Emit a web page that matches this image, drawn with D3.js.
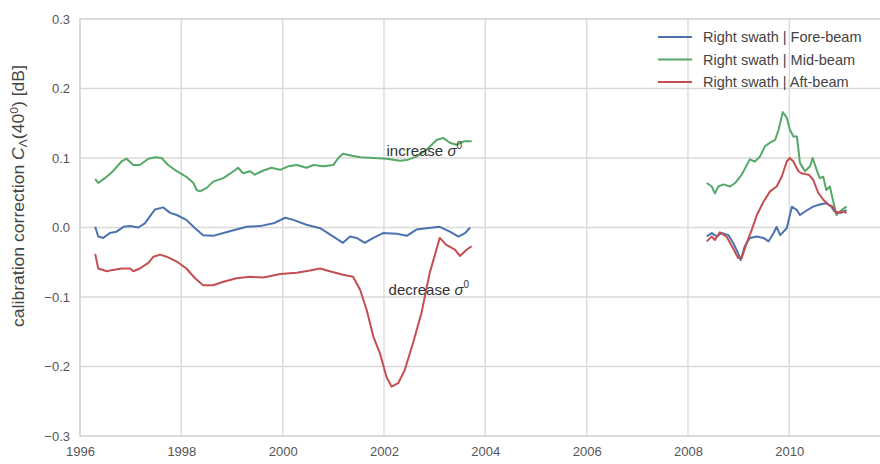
<!DOCTYPE html>
<html>
  <head>
    <meta charset="utf-8">
    <title></title>
  </head>
  <body style="margin:0;background:#fff">
  <style media="screen">
    svg { display:block; font-family:"Liberation Sans", Arial, sans-serif; }
    .grid line { stroke:#d9d9d9; stroke-width:1.3; }
    .tick text { fill:#555; font-size:13px; }
    .series { fill:none; stroke-width:2; stroke-linejoin:round; }
  </style>

<svg id="chart1" width="880" height="464"></svg>
    <script src="https://d3js.org/d3.v7.min.js"></script>
    <script type="text/javascript">
    // data (decimal year, dB)
    var foreYears1 = [1996.30,1996.36,1996.46,1996.59,1996.72,1996.86,1996.99,1997.15,1997.28,1997.38,1997.48,1997.64,1997.78,1997.91,1998.10,1998.27,1998.43,1998.63,1998.83,1999.03,1999.29,1999.55,1999.82,2000.05,2000.21,2000.47,2000.74,2001.00,2001.19,2001.33,2001.46,2001.62,2001.79,2001.98,2002.25,2002.45,2002.64,2002.84,2003.10,2003.30,2003.47,2003.60,2003.70];
    var foreVals1  = [0.001,-0.013,-0.015,-0.008,-0.006,0.001,0.002,0.000,0.006,0.016,0.026,0.029,0.021,0.018,0.011,-0.001,-0.011,-0.012,-0.008,-0.004,0.001,0.002,0.006,0.014,0.011,0.004,-0.001,-0.013,-0.022,-0.013,-0.015,-0.022,-0.015,-0.008,-0.009,-0.012,-0.003,-0.001,0.001,-0.006,-0.013,-0.008,0.000];

    var midYears1 = [1996.30,1996.36,1996.49,1996.65,1996.82,1996.92,1997.05,1997.18,1997.35,1997.48,1997.61,1997.74,1997.91,1998.10,1998.24,1998.30,1998.37,1998.50,1998.63,1998.83,1999.03,1999.12,1999.22,1999.36,1999.45,1999.62,1999.78,1999.95,2000.11,2000.28,2000.47,2000.61,2000.80,2001.00,2001.10,2001.19,2001.39,2001.53,2001.79,2002.05,2002.32,2002.45,2002.64,2002.84,2003.04,2003.17,2003.30,2003.43,2003.57,2003.73];
    var midVals1  = [0.070,0.064,0.071,0.081,0.095,0.099,0.090,0.090,0.099,0.101,0.100,0.090,0.081,0.073,0.064,0.054,0.052,0.057,0.066,0.071,0.081,0.086,0.078,0.081,0.076,0.082,0.086,0.083,0.088,0.090,0.086,0.090,0.088,0.090,0.100,0.106,0.103,0.101,0.100,0.099,0.096,0.097,0.102,0.112,0.126,0.129,0.122,0.119,0.124,0.124];

    var aftYears1 = [1996.30,1996.36,1996.53,1996.65,1996.82,1996.99,1997.05,1997.18,1997.35,1997.45,1997.58,1997.71,1997.91,1998.10,1998.27,1998.43,1998.63,1998.83,1999.09,1999.36,1999.62,1999.95,2000.28,2000.54,2000.74,2000.93,2001.19,2001.39,2001.53,2001.66,2001.79,2001.92,2002.05,2002.15,2002.28,2002.41,2002.57,2002.74,2002.90,2003.10,2003.23,2003.40,2003.50,2003.63,2003.73];
    var aftVals1  = [-0.038,-0.059,-0.063,-0.061,-0.059,-0.059,-0.063,-0.059,-0.051,-0.042,-0.039,-0.042,-0.049,-0.059,-0.073,-0.083,-0.083,-0.078,-0.073,-0.071,-0.072,-0.067,-0.065,-0.062,-0.059,-0.063,-0.068,-0.071,-0.090,-0.119,-0.157,-0.181,-0.215,-0.229,-0.224,-0.205,-0.167,-0.123,-0.066,-0.015,-0.025,-0.032,-0.041,-0.032,-0.027];

    var foreYears2 = [2008.37,2008.47,2008.57,2008.66,2008.80,2008.89,2008.99,2009.04,2009.12,2009.22,2009.36,2009.49,2009.59,2009.69,2009.75,2009.82,2009.95,2010.05,2010.15,2010.21,2010.31,2010.47,2010.60,2010.73,2010.83,2010.89,2011.02,2011.13];
    var foreVals2  = [-0.013,-0.008,-0.013,-0.008,-0.011,-0.022,-0.037,-0.047,-0.027,-0.015,-0.013,-0.015,-0.020,-0.008,0.001,-0.011,-0.001,0.030,0.025,0.018,0.023,0.030,0.033,0.035,0.030,0.023,0.021,0.025];

    var midYears2 = [2008.37,2008.47,2008.53,2008.60,2008.70,2008.83,2008.93,2009.06,2009.22,2009.32,2009.42,2009.52,2009.62,2009.72,2009.79,2009.87,2009.95,2010.01,2010.08,2010.15,2010.21,2010.31,2010.41,2010.46,2010.54,2010.60,2010.67,2010.73,2010.80,2010.86,2010.93,2011.03,2011.13];
    var midVals2  = [0.064,0.059,0.049,0.059,0.062,0.059,0.064,0.076,0.098,0.095,0.102,0.117,0.122,0.126,0.141,0.166,0.158,0.141,0.131,0.131,0.093,0.081,0.088,0.100,0.083,0.071,0.073,0.054,0.059,0.040,0.018,0.025,0.030];

    var aftYears2 = [2008.37,2008.47,2008.53,2008.63,2008.76,2008.89,2008.99,2009.06,2009.16,2009.26,2009.36,2009.49,2009.62,2009.75,2009.85,2009.95,2010.01,2010.08,2010.18,2010.24,2010.38,2010.47,2010.57,2010.67,2010.77,2010.86,2010.93,2011.06,2011.13];
    var aftVals2  = [-0.020,-0.013,-0.018,-0.007,-0.013,-0.030,-0.044,-0.044,-0.022,-0.003,0.018,0.037,0.052,0.059,0.073,0.095,0.100,0.095,0.081,0.078,0.076,0.069,0.050,0.040,0.033,0.030,0.021,0.023,0.021];

    var seriesNames = ['Right swath | Fore-beam','Right swath | Mid-beam','Right swath | Aft-beam'];
    var colors = ['#4c72b0','#55a868','#c44e52'];
    var xTicks = [1996,1998,2000,2002,2004,2006,2008,2010];
    var yTicks = [-0.3,-0.2,-0.1,0.0,0.1,0.2,0.3];

    function zip(xs, vs){ return xs.map((t,i)=>({t:t, v:vs[i]})); }
    var series = [
      [zip(foreYears1,foreVals1), zip(foreYears2,foreVals2)],
      [zip(midYears1,midVals1),  zip(midYears2,midVals2)],
      [zip(aftYears1,aftVals1),  zip(aftYears2,aftVals2)]
    ];

    var svg = d3.select('#chart1');
    var mL = 80, mR = 880, mT = 19, mB = 436;

    var x = d3.scaleLinear().domain([1996, 2011.79]).range([mL, mR]);
    var y = d3.scaleLinear().domain([-0.3, 0.3]).range([mB, mT]);

    // grid
    svg.append('g').attr('class','grid')
      .selectAll('line').data(xTicks.slice(1)).enter().append('line')
      .attr('x1', d=>x(d)).attr('x2', d=>x(d)).attr('y1', mT).attr('y2', mB);
    svg.append('g').attr('class','grid')
      .selectAll('line').data(yTicks.slice(1,-1)).enter().append('line')
      .attr('x1', mL).attr('x2', mR).attr('y1', d=>y(d)).attr('y2', d=>y(d));

    // spines
    svg.append('path')
      .attr('d', `M${mR},${mT}H${mL}V${mB}H${mR}`)
      .attr('fill','none').attr('stroke','#cfcfcf').attr('stroke-width',1.5);

    // axes (labels only, no tick marks)
    var fmt = d => d3.format('.1f')(d).replace('-', '\u2212');
    svg.append('g').attr('transform', `translate(0,${mB})`)
      .call(d3.axisBottom(x).tickValues(xTicks).tickFormat(d3.format('d')).tickSize(0).tickPadding(11))
      .call(g=>g.select('.domain').remove());
    svg.append('g').attr('transform', `translate(${mL},0)`)
      .call(d3.axisLeft(y).tickValues(yTicks).tickFormat(fmt).tickSize(0).tickPadding(10))
      .call(g=>g.select('.domain').remove());
    svg.selectAll('.tick text').attr('font-family','"Liberation Sans", Arial, sans-serif');

    // lines
    var line = d3.line().x(d=>x(d.t)).y(d=>y(d.v));
    series.forEach(function(segs, i){
      segs.forEach(function(seg){
        svg.append('path').attr('class','series')
          .attr('d', line(seg)).attr('stroke', colors[i]);
      });
    });

    // y label (slightly stretched along its length like the picture)
    var yl = svg.append('text')
      .attr('transform', `translate(24,196) rotate(-90) scale(1.1,1)`)
      .attr('text-anchor','middle').attr('font-size',16).attr('fill','#444');
    yl.append('tspan').text('calibration correction ');
    yl.append('tspan').attr('font-style','italic').text('C');
    yl.append('tspan').attr('font-size',11).attr('dy',3).text('\u039b');
    yl.append('tspan').attr('dy',-3).text('(40');
    yl.append('tspan').attr('font-size',11).attr('dy',-6).text('0');
    yl.append('tspan').attr('dy',6).text(') [dB]');

    // annotations
    function note(t, yr, v){
      var tx = svg.append('text').attr('x', x(yr)).attr('y', y(v))
        .attr('font-size',15).attr('fill','#333');
      tx.append('tspan').text(t + ' ');
      tx.append('tspan').attr('font-style','italic').text('\u03c3');
      tx.append('tspan').attr('font-size',10).attr('dy',-7).text('0');
    }
    note('increase', 2002.05, 0.103);
    note('decrease', 2002.09, -0.097);

    // legend
    var lg = svg.append('g').selectAll('g').data(seriesNames).enter().append('g')
      .attr('transform', (d,i)=>`translate(658,${37 + i*22.5})`);
    lg.append('line').attr('x1',0).attr('x2',34).attr('stroke',(d,i)=>colors[i]).attr('stroke-width',2);
    lg.append('text').attr('x',45).attr('dy','0.35em').attr('font-size',14.5).attr('fill','#444').text(d=>d);
    </script>
  </body>
</html>
